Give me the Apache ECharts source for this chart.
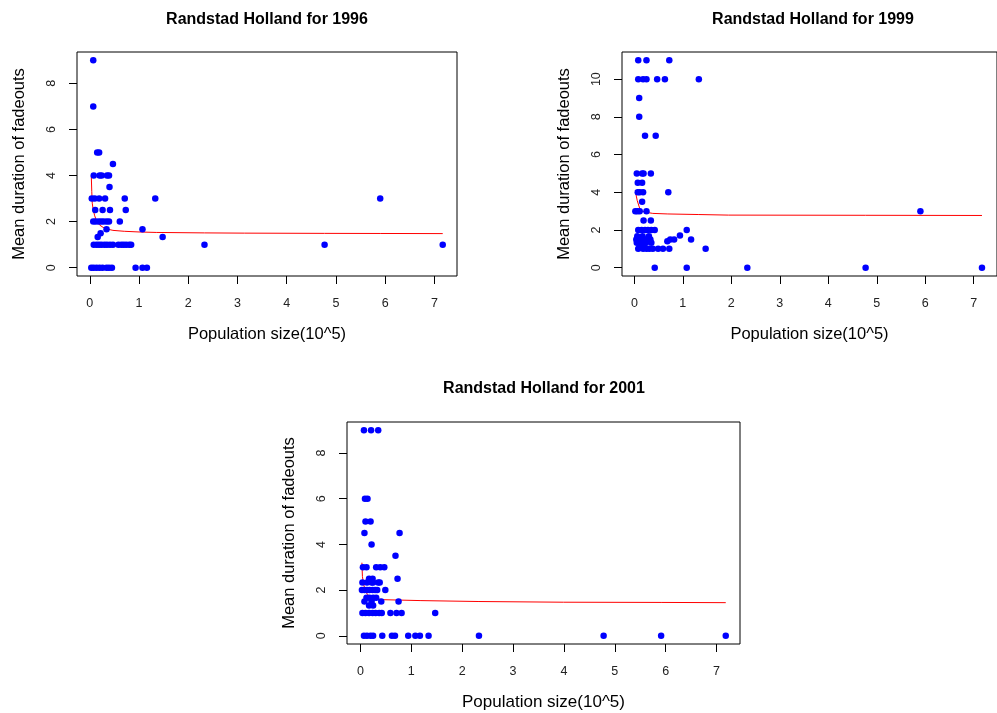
<!DOCTYPE html>
<html>
<head>
<meta charset="utf-8">
<script src="https://cdn.jsdelivr.net/npm/echarts@6/dist/echarts.min.js"></script>
<style>
html,body{margin:0;padding:0;background:#fff;}
#chart{width:997px;height:713px;}
</style>
</head>
<body>
<div id="chart"></div>
<script>
// ---------- data ----------
const titles = ['Randstad Holland for 1996', 'Randstad Holland for 1999', 'Randstad Holland for 2001'];
const xName = 'Population size(10^5)';
const yName = 'Mean duration of fadeouts';
const xTicks = [0, 1, 2, 3, 4, 5, 6, 7];
const yTicks1996 = [0, 2, 4, 6, 8];
const yTicks1999 = [0, 2, 4, 6, 8, 10];
const yTicks2001 = [0, 2, 4, 6, 8];

const pts1996 = [
  [0.07,9],[0.07,7],[0.15,5],[0.19,5],[0.47,4.5],
  [0.08,4],[0.2,4],[0.24,4],[0.35,4],[0.39,4],
  [0.4,3.5],
  [0.04,3],[0.1,3],[0.19,3],[0.31,3],[0.71,3],[1.33,3],[5.9,3],
  [0.11,2.5],[0.26,2.5],[0.41,2.5],[0.73,2.5],
  [0.07,2],[0.12,2],[0.18,2],[0.23,2],[0.28,2],[0.34,2],[0.39,2],[0.61,2],
  [0.34,1.67],[1.07,1.67],
  [0.22,1.5],[0.16,1.33],[1.48,1.33],
  [0.08,1],[0.14,1],[0.19,1],[0.24,1],[0.3,1],[0.35,1],[0.41,1],[0.47,1],[0.58,1],[0.64,1],[0.69,1],[0.74,1],[0.8,1],[0.84,1],[2.33,1],[4.77,1],[7.17,1],
  [0.03,0],[0.08,0],[0.14,0],[0.2,0],[0.26,0],[0.34,0],[0.39,0],[0.45,0],[0.93,0],[1.07,0],[1.16,0]
];
const fit1996 = [[0.03,4.0],[0.04,3.3],[0.05,2.8],[0.07,2.5],[0.1,2.25],[0.135,2.05],[0.2,1.85],[0.27,1.75],[0.35,1.68],[0.47,1.62],[0.7,1.58],[1.0,1.55],[1.35,1.53],[2.33,1.51],[3.14,1.5],[4.77,1.49],[5.9,1.485],[7.17,1.48]];

const pts1999 = [
  [0.08,11],[0.25,11],[0.72,11],
  [0.08,10],[0.18,10],[0.25,10],[0.47,10],[0.63,10],[1.33,10],
  [0.1,9],[0.1,8],[0.22,7],[0.44,7],
  [0.05,5],[0.16,5],[0.19,5],[0.34,5],
  [0.07,4.5],[0.16,4.5],
  [0.07,4],[0.11,4],[0.18,4],[0.7,4],
  [0.16,3.5],
  [0.02,3],[0.06,3],[0.11,3],[0.25,3],[5.9,3],
  [0.19,2.5],[0.34,2.5],
  [0.08,2],[0.15,2],[0.22,2],[0.28,2],[0.35,2],[0.42,2],[1.08,2],
  [0.06,1.67],[0.17,1.67],[0.3,1.67],[0.94,1.71],
  [0.04,1.5],[0.1,1.5],[0.2,1.5],[0.27,1.5],[0.33,1.5],[0.74,1.5],[0.82,1.5],[1.17,1.5],
  [0.05,1.33],[0.14,1.33],[0.24,1.33],[0.35,1.33],[0.68,1.4],
  [0.12,1.25],[0.2,1.25],
  [0.08,1],[0.18,1],[0.25,1],[0.31,1],[0.38,1],[0.49,1],[0.59,1],[0.72,1],[1.47,1],
  [0.42,0],[1.08,0],[2.33,0],[4.77,0],[7.17,0]
];
const fit1999 = [[0.02,4.1],[0.04,3.8],[0.06,3.55],[0.11,3.15],[0.16,3.0],[0.22,2.95],[0.38,2.88],[0.69,2.85],[1.33,2.82],[1.94,2.79],[4.77,2.78],[7.17,2.77]];

const pts2001 = [
  [0.07,9],[0.21,9],[0.35,9],
  [0.09,6],[0.14,6],
  [0.1,5],[0.2,5],
  [0.08,4.5],[0.77,4.5],
  [0.22,4],
  [0.69,3.5],
  [0.05,3],[0.12,3],[0.31,3],[0.39,3],[0.47,3],
  [0.17,2.5],[0.24,2.5],[0.73,2.5],
  [0.04,2.33],[0.13,2.33],[0.22,2.33],[0.25,2.33],[0.35,2.33],[0.38,2.33],
  [0.03,2],[0.08,2],[0.13,2],[0.18,2],[0.24,2],[0.29,2],[0.33,2],[0.49,2],
  [0.12,1.67],[0.18,1.67],[0.25,1.67],[0.31,1.67],
  [0.08,1.5],[0.22,1.5],[0.41,1.5],[0.75,1.5],
  [0.17,1.33],[0.25,1.33],
  [0.04,1],[0.1,1],[0.17,1],[0.24,1],[0.3,1],[0.37,1],[0.42,1],[0.59,1],[0.71,1],[0.81,1],[1.47,1],
  [0.07,0],[0.13,0],[0.2,0],[0.25,0],[0.43,0],[0.62,0],[0.68,0],[0.94,0],[1.08,0],[1.17,0],[1.34,0],[2.33,0],[4.78,0],[5.91,0],[7.18,0]
];
const fit2001 = [[0.03,3.2],[0.04,2.6],[0.06,2.3],[0.08,2.1],[0.12,1.87],[0.18,1.72],[0.25,1.64],[0.45,1.58],[1.19,1.54],[2.33,1.5],[3.99,1.47],[5.91,1.46],[7.18,1.45]];

// ---------- layout ----------
const FONT = 'Liberation Sans, Arial, sans-serif';
const panels = [
  {grid:{left:77, top:52, width:380, height:224}, xr:[-0.26,7.46], yr:[-0.36,9.36], yTicks:yTicks1996, pts:pts1996, fit:fit1996, titleX:267, titleY:12},
  {grid:{left:622, top:52, width:382, height:224}, xr:[-0.255,7.48], yr:[-0.44,11.44], yTicks:yTicks1999, pts:pts1999, fit:fit1999, titleX:813, titleY:12},
  {grid:{left:347, top:422, width:393, height:222}, xr:[-0.263,7.46], yr:[-0.36,9.36], yTicks:yTicks2001, pts:pts2001, fit:fit2001, titleX:544, titleY:381}
];
const N = panels.length;

const lbl = (vals, rot, margin) => ({
  show: true, margin: margin, rotate: rot, customValues: vals,
  fontFamily: FONT, fontSize: 12.5, color: '#222',
  backgroundColor: 'transparent', padding: 0, lineHeight: 14
});
const xAxes = [], yAxes = [];
// main axes: scale, ticks and titles (no labels on these)
panels.forEach((p, i) => {
  xAxes.push({
    type: 'value', gridIndex: i, min: p.xr[0], max: p.xr[1], position: 'bottom',
    name: xName, nameLocation: 'middle', nameGap: 50,
    nameTextStyle: {fontFamily: FONT, fontSize: i === 2 ? 17 : 16.5, color: '#000'},
    axisLine: {show: false, onZero: false},
    splitLine: {show: false},
    axisTick: {show: true, inside: false, length: 8, customValues: xTicks, lineStyle: {color: '#000', width: 1}},
    axisLabel: {show: false}
  });
  yAxes.push({
    type: 'value', gridIndex: i, min: p.yr[0], max: p.yr[1], position: 'left',
    name: yName, nameLocation: 'middle', nameGap: 49,
    nameTextStyle: {fontFamily: FONT, fontSize: 16.5, color: '#000'},
    axisLine: {show: false, onZero: false},
    splitLine: {show: false},
    axisTick: {show: true, inside: false, length: 8, customValues: p.yTicks, lineStyle: {color: '#000', width: 1}},
    axisLabel: {show: false}
  });
});
// label axes: same scale, shifted just past the tick marks
panels.forEach((p, i) => {
  xAxes.push({type: 'value', gridIndex: i, min: p.xr[0], max: p.xr[1], position: 'bottom', offset: 9,
    axisLine: {show: false, onZero: false}, axisTick: {show: false}, splitLine: {show: false},
    axisLabel: lbl(xTicks, 0, 12)});
  yAxes.push({type: 'value', gridIndex: i, min: p.yr[0], max: p.yr[1], position: 'left', offset: 9,
    axisLine: {show: false, onZero: false}, axisTick: {show: false}, splitLine: {show: false},
    axisLabel: lbl(p.yTicks, 90, 9)});
});

const option = {
  backgroundColor: '#fff',
  animation: false,
  title: panels.map((p, i) => ({
    text: titles[i], left: p.titleX, top: p.titleY, textAlign: 'center', padding: 0,
    textStyle: {fontFamily: FONT, fontSize: 16, fontWeight: 'bold', color: '#000'}
  })),
  grid: panels.map(p => Object.assign({show:true, borderColor:'#000', borderWidth:1, backgroundColor:'transparent'}, p.grid)),
  xAxis: xAxes,
  yAxis: yAxes,
  series: []
};
panels.forEach((p, i) => {
  option.series.push({
    type: 'line', xAxisIndex: i, yAxisIndex: i, data: p.fit, showSymbol: false, symbol: 'none',
    lineStyle: {color: '#ff0000', width: 1}, z: 3
  });
  option.series.push({
    type: 'scatter', xAxisIndex: i, yAxisIndex: i, data: p.pts, symbol: 'circle', symbolSize: 6.5,
    itemStyle: {color: '#0000ff', opacity: 1}, z: 4
  });
});

const chart = echarts.init(document.getElementById('chart'), null, {renderer: 'canvas'});
chart.setOption(option);
</script>
</body>
</html>
